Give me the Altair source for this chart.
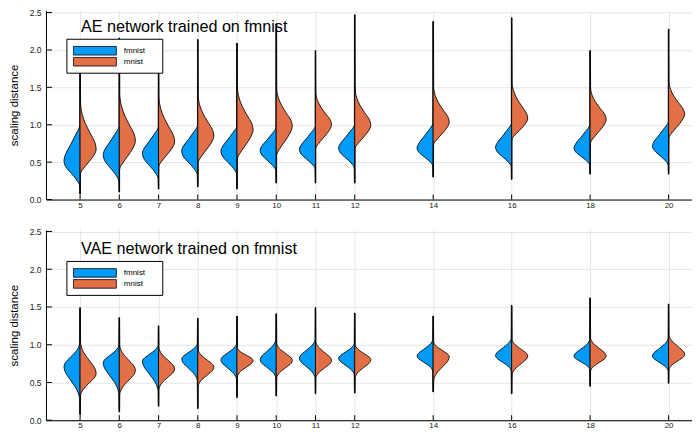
import altair as alt
import pandas as pd

# ---------------- data ----------------
XS = [5, 6, 7, 8, 9, 10, 11, 12, 14, 16, 18, 20]
SERIES = ["fmnist", "mnist"]
COLORS = ["#009AF9", "#E26F46"]
Y_TICKS = [0.0, 0.5, 1.0, 1.5, 2.0, 2.5]
TITLES = ["AE network trained on fmnist", "VAE network trained on fmnist"]

# AE panel: overall extent of each violin, and per half: body start, widest point, body end
AE_MIN = [0.075, 0.10, 0.14, 0.17, 0.14, 0.22, 0.22, 0.22, 0.30, 0.27, 0.34, 0.34]
AE_MAX = [1.90, 2.16, 1.95, 2.14, 2.09, 2.35, 1.99, 2.47, 2.38, 2.43, 1.99, 2.28]
AE_F_START = [0.18, 0.24, 0.28, 0.33, 0.34, 0.385, 0.41, 0.42, 0.45, 0.44, 0.46, 0.46]
AE_F_PEAK = [0.52, 0.60, 0.62, 0.65, 0.65, 0.66, 0.67, 0.69, 0.69, 0.70, 0.69, 0.72]
AE_F_END = [1.00, 0.98, 0.97, 0.99, 0.98, 0.96, 0.98, 1.00, 1.02, 1.02, 1.00, 1.04]
AE_M_START = [0.34, 0.40, 0.44, 0.49, 0.54, 0.59, 0.68, 0.68, 0.73, 0.80, 0.75, 0.82]
AE_M_PEAK = [0.67, 0.78, 0.77, 0.85, 0.93, 0.98, 1.00, 0.99, 1.03, 1.08, 1.07, 1.14]
AE_M_END = [1.30, 1.41, 1.37, 1.39, 1.50, 1.49, 1.43, 1.48, 1.51, 1.57, 1.50, 1.58]

# VAE panel
VAE_MIN = [0.075, 0.11, 0.185, 0.155, 0.30, 0.32, 0.35, 0.36, 0.375, 0.35, 0.45, 0.49]
VAE_MAX = [1.49, 1.36, 1.25, 1.35, 1.38, 1.41, 1.49, 1.42, 1.38, 1.52, 1.62, 1.54]
VAE_F_START = [0.27, 0.34, 0.38, 0.52, 0.54, 0.56, 0.56, 0.60, 0.65, 0.65, 0.67, 0.65]
VAE_F_PEAK = [0.71, 0.76, 0.78, 0.81, 0.80, 0.80, 0.82, 0.82, 0.85, 0.855, 0.85, 0.85]
VAE_F_END = [1.02, 1.00, 1.00, 1.02, 1.02, 1.07, 1.07, 1.02, 1.07, 1.09, 1.07, 1.09]
VAE_M_START = [0.32, 0.34, 0.41, 0.45, 0.58, 0.56, 0.56, 0.56, 0.52, 0.60, 0.65, 0.67]
VAE_M_PEAK = [0.62, 0.66, 0.68, 0.70, 0.79, 0.79, 0.79, 0.80, 0.84, 0.85, 0.85, 0.87]
VAE_M_END = [1.03, 0.99, 0.96, 0.935, 0.96, 1.02, 1.04, 1.00, 1.04, 1.07, 1.09, 1.13]

# outline profiles: (fraction of the way, relative half width)
AE_F_LOWER = ([0, 0.25, 0.5, 0.75, 1], [0.03, 0.22, 0.55, 0.88, 1.0])
AE_F_UPPER = ([0, 0.2, 0.45, 0.7, 1], [1.0, 0.88, 0.58, 0.30, 0.02])
AE_M_LOWER = ([0, 0.3, 0.6, 0.85, 1], [0.02, 0.30, 0.68, 0.93, 1.0])
AE_M_UPPER = ([0, 0.15, 0.35, 0.55, 0.75, 1], [1.0, 0.92, 0.62, 0.33, 0.13, 0.03])
VAE_LOWER = ([0, 0.3, 0.6, 0.85, 1], [0.03, 0.20, 0.60, 0.93, 1.0])
VAE_UPPER = ([0, 0.15, 0.4, 0.7, 1], [1.0, 0.93, 0.60, 0.20, 0.03])

HALF_W = 0.41
TAIL = 0.018

X_DOMAIN = [4.13, 20.597]
W = 647


def half_rows(panel, i, series, vmin, vmax, start, peak, end, lower, upper):
    pts = [(vmin, TAIL)]
    for f, w in zip(*lower):
        pts.append((start + f * (peak - start), w))
    for f, w in list(zip(*upper))[1:]:
        pts.append((peak + f * (end - peak), w))
    pts.append((vmax, TAIL))
    sign = -1 if series == SERIES[0] else 1
    rows = []
    for v, w in pts:
        rows.append({
            "gid": f"{panel}-{XS[i]}-{series}", "series": series,
            "v": v, "xa": XS[i], "xb": XS[i] + sign * w * HALF_W,
        })
    return rows


def build(panel, mins, maxs, fs, fp, fe, ms, mp, me, flo, fup, mlo, mup):
    rows = []
    for i in range(len(XS)):
        rows += half_rows(panel, i, SERIES[0], mins[i], maxs[i], fs[i], fp[i], fe[i], flo, fup)
        rows += half_rows(panel, i, SERIES[1], mins[i], maxs[i], ms[i], mp[i], me[i], mlo, mup)
    return pd.DataFrame(rows)


AE_DF = build("AE", AE_MIN, AE_MAX, AE_F_START, AE_F_PEAK, AE_F_END,
              AE_M_START, AE_M_PEAK, AE_M_END, AE_F_LOWER, AE_F_UPPER, AE_M_LOWER, AE_M_UPPER)
VAE_DF = build("VAE", VAE_MIN, VAE_MAX, VAE_F_START, VAE_F_PEAK, VAE_F_END,
               VAE_M_START, VAE_M_PEAK, VAE_M_END, VAE_LOWER, VAE_UPPER, VAE_LOWER, VAE_UPPER)

FONT = "Liberation Sans"


def panel_chart(df, title, h, ymax, title_y, leg_top):
    leg = (21, 117, leg_top, leg_top + 34)
    xscale = alt.Scale(domain=X_DOMAIN, nice=False, zero=False)
    yscale = alt.Scale(domain=[0, ymax], nice=False, zero=False)
    xaxis = alt.Axis(values=XS, format="d", grid=True, ticks=False, labelPadding=1.5,
                     labelFontSize=8, labelColor="#222", domainColor="black",
                     gridColor="#e6e6e6", labelFont=FONT, labelOverlap=False)
    yaxis = alt.Axis(values=Y_TICKS, format=".1f", grid=True, ticks=False, labelPadding=5,
                     labelFontSize=8.5, labelColor="#222", domainColor="black",
                     gridColor="#e6e6e6", labelFont=FONT, titleFont=FONT,
                     titleFontSize=11.5, titleFontWeight="normal", titleColor="black",
                     titlePadding=9.5, labelOverlap=False)
    legend = alt.Legend(title=None, orient="none", legendX=leg[0], legendY=leg[2],
                        padding=6, symbolType="M-1,-0.2H1V0.2H-1Z", symbolSize=1849,
                        clipHeight=11, labelFontSize=8, labelFont=FONT, labelColor="black",
                        labelOffset=7, rowPadding=0, symbolStrokeColor="black",
                        symbolStrokeWidth=0.8)
    area = alt.Chart(df).mark_area(
        orient="horizontal", interpolate="monotone", stroke="black", strokeWidth=0.85, opacity=1
    ).encode(
        y=alt.Y("v:Q", scale=yscale, axis=yaxis, title="scaling distance"),
        x=alt.X("xa:Q", scale=xscale, axis=xaxis, title=None),
        x2="xb:Q",
        fill=alt.Fill("series:N", scale=alt.Scale(domain=SERIES, range=COLORS), legend=legend),
        detail="gid:N",
    )
    yt = alt.Chart(pd.DataFrame({"v": Y_TICKS})).mark_rule(color="black", strokeWidth=1).encode(
        y=alt.Y("v:Q", scale=yscale, axis=yaxis, title="scaling distance"),
        x=alt.value(0), x2=alt.value(6),
    )
    xt = alt.Chart(pd.DataFrame({"xa": XS})).mark_rule(color="black", strokeWidth=1).encode(
        x=alt.X("xa:Q", scale=xscale, axis=xaxis, title=None),
        y=alt.value(h), y2=alt.value(h - 5),
    )
    frame = alt.Chart(pd.DataFrame({"s": SERIES[:1]})).mark_rect(
        fill="white", stroke="black", strokeWidth=1
    ).encode(
        x=alt.value(leg[0]), x2=alt.value(leg[1]),
        y=alt.value(leg[2]), y2=alt.value(leg[3]),
    )
    ttl = alt.Chart(pd.DataFrame({"t": [title]})).mark_text(
        align="left", baseline="alphabetic", fontSize=16.2, font=FONT, color="black"
    ).encode(text="t:N", x=alt.value(35), y=alt.value(title_y))
    return alt.layer(area, yt, xt, frame, ttl).properties(width=W, height=h)


chart = alt.vconcat(
    panel_chart(AE_DF, TITLES[0], 189.5, 2.53, 21.7, 29),
    panel_chart(VAE_DF, TITLES[1], 190.5, 2.52, 23.8, 31.5),
    spacing=18,
).resolve_scale(fill="independent").resolve_legend(fill="independent").properties(
    padding=0
).configure(font=FONT).configure_view(strokeWidth=0)

chart.save("out.html", embed_options={"renderer": "svg", "actions": False})
